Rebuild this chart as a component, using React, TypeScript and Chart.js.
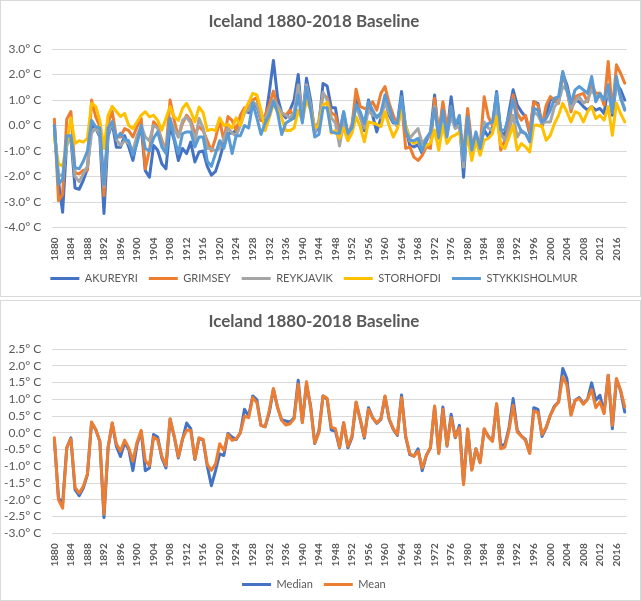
import React, { useEffect, useRef } from "react";
import { Chart, registerables } from "chart.js";

Chart.register(...registerables);

const years: string[] = [
  "1880","1881","1882","1883","1884","1885","1886","1887","1888","1889",
  "1890","1891","1892","1893","1894","1895","1896","1897","1898","1899",
  "1900","1901","1902","1903","1904","1905","1906","1907","1908","1909",
  "1910","1911","1912","1913","1914","1915","1916","1917","1918","1919",
  "1920","1921","1922","1923","1924","1925","1926","1927","1928","1929",
  "1930","1931","1932","1933","1934","1935","1936","1937","1938","1939",
  "1940","1941","1942","1943","1944","1945","1946","1947","1948","1949",
  "1950","1951","1952","1953","1954","1955","1956","1957","1958","1959",
  "1960","1961","1962","1963","1964","1965","1966","1967","1968","1969",
  "1970","1971","1972","1973","1974","1975","1976","1977","1978","1979",
  "1980","1981","1982","1983","1984","1985","1986","1987","1988","1989",
  "1990","1991","1992","1993","1994","1995","1996","1997","1998","1999",
  "2000","2001","2002","2003","2004","2005","2006","2007","2008","2009",
  "2010","2011","2012","2013","2014","2015","2016","2017","2018",
];

const akureyri: number[] = [
  0.0, -2.2, -3.4, -0.6, -0.5, -2.45, -2.5, -2.15, -1.7, 0.0,
  -0.1, -0.45, -3.45, -0.4, 0.1, -0.85, -0.85, -0.4, -0.84, -1.37,
  -0.6, -0.05, -1.77, -2.03, -0.78, -0.97, -1.5, -1.7, 0.0, -0.58,
  -1.37, -0.9, -1.1, -0.65, -1.43, -1.04, -1.0, -1.6, -1.95, -1.8,
  -1.3, -0.7, -0.3, -0.3, -0.2, 0.1, 0.6, 0.5, 0.8, 0.74,
  0.2, 0.2, 1.3, 2.55, 1.1, 0.5, 0.3, 0.6, 1.0, 2.0,
  0.2, 1.85, 1.0, -0.3, 0.0, 1.65, 1.55, 0.7, 0.7, -0.3,
  0.5, -0.4, 0.0, 1.0, 0.4, -0.2, 1.0, 0.4, -0.25, 0.3,
  1.0, 0.4, 0.1, 0.1, 1.33, -0.1, -0.78, -0.84, -0.75, -1.1,
  -0.6, -0.3, 1.2, -0.5, 0.8, -0.32, 1.13, -0.1, 0.2, -2.03,
  0.3, -0.84, -0.38, -0.8, -0.18, -0.45, -0.05, 1.33, -0.25, -0.38,
  0.54, 1.4, 0.8, 0.54, 0.34, -0.32, 0.93, 0.87, 0.0, 0.34,
  1.07, 0.93, 1.0, 2.05, 1.6, 0.87, 1.0, 0.93, 0.74, 0.6,
  0.74, 0.6, 0.67, 0.47, 1.53, 0.4, 1.66, 1.4, 1.0,
];

const grimsey: number[] = [
  0.25, -2.95, -2.7, 0.25, 0.55, -1.85, -1.9, -1.75, -1.75, 1.0,
  0.35, -0.05, -2.75, 0.1, 0.55, -0.45, -0.45, -0.12, -0.2, -0.45,
  -0.05, 0.28, -1.7, -0.97, 0.15, -0.05, -0.58, -0.97, 1.0, 0.2,
  -0.45, 0.08, 0.4, 0.2, -0.3, -0.05, -0.2, -0.6, -1.0, -0.5,
  0.2, -0.6, 0.35, 0.2, -0.2, 0.4, 0.7, 0.7, 1.0, 1.1,
  0.2, 0.4, 0.8, 1.35, 0.7, 0.5, 0.4, 0.6, 0.3, 1.5,
  0.4, 1.4, 0.7, -0.1, 0.1, 1.2, 1.1, 0.5, 0.4, -0.3,
  0.3, -0.3, 0.0, 1.42, 0.74, 0.67, 0.7, 0.93, 0.6, 1.26,
  1.53, 0.87, 0.4, -0.05, 0.93, -0.9, -0.84, -1.24, -1.37, -1.17,
  -0.84, -0.9, 1.07, -0.32, 0.93, -0.12, 0.74, 0.0, 0.0, -1.04,
  0.67, -0.71, -0.45, -0.84, 1.13, 0.34, 0.01, 0.87, -0.97, -0.58,
  0.01, 1.2, 0.47, 0.21, 0.4, -0.25, 0.93, 0.8, 0.0, 0.8,
  1.13, 1.0, 0.87, 2.05, 1.4, 0.54, 1.13, 1.2, 1.26, 0.93,
  1.6, 1.26, 1.26, 0.8, 2.51, 0.54, 2.38, 2.05, 1.66,
];

const reykjavik: number[] = [
  -0.3, -1.9, -2.0, -0.8, -0.4, -2.0, -2.2, -1.9, -1.6, -0.3,
  -0.1, -0.35, -2.4, -0.3, 0.15, -0.55, -0.78, -0.6, -0.7, -1.0,
  -0.4, 0.0, -0.45, -0.6, 0.0, -0.1, -0.7, -1.0, 0.2, -0.12,
  -0.45, 0.2, 0.34, 0.1, -0.7, 0.28, -0.1, -0.9, -0.9, -1.0,
  -0.9, -0.5, -0.1, -0.3, -0.4, 0.0, 0.5, 0.6, 0.93, 0.8,
  0.3, 0.3, 0.6, 1.0, 0.8, 0.5, 0.4, 0.3, 0.5, 1.6,
  0.3, 1.6, 0.8, -0.3, 0.2, 1.3, 1.0, 0.3, 0.1, -0.8,
  0.2, -0.4, -0.1, 0.8, 0.3, -0.1, 0.6, 0.4, 0.4, 0.3,
  1.0, 0.47, 0.2, -0.05, 0.87, 0.0, -0.5, -0.3, -0.12, -0.7,
  -0.5, -0.4, 0.74, -0.45, 0.47, -0.32, 0.34, -0.12, 0.0, -1.63,
  0.08, -0.84, -0.45, -0.84, 0.14, -0.1, -0.2, 0.74, -0.32, -0.58,
  -0.18, 0.4, -0.45, -0.18, -0.32, -0.51, 0.54, 0.4, 0.08, 0.14,
  0.14, 0.74, 0.93, 1.53, 1.4, 0.67, 0.93, 1.13, 0.87, 1.0,
  1.4, 1.13, 1.13, 1.0, 1.26, 0.54, 1.66, 1.13, 0.67,
];

const storhofdi: number[] = [
  -0.5, -1.5, -1.6, -0.7, 0.3, -0.7, -0.6, -0.65, -0.5, 0.87,
  0.75, 0.2, -0.9, 0.4, 0.75, 0.55, 0.35, 0.47, 0.0, -0.12,
  0.14, 0.4, 0.54, 0.34, 0.4, 0.2, -0.18, 0.28, 0.74, 0.34,
  0.2, 0.67, 0.87, 0.54, 0.14, 0.72, 0.5, -0.2, -0.15, -0.2,
  0.3, 0.0, 0.05, -0.1, 0.3, 0.0, 0.6, 0.9, 1.26, 1.2,
  0.6, -0.2, 0.3, 0.85, 0.6, 0.3, -0.2, -0.2, -0.1, 0.6,
  0.2, 1.0, 0.6, -0.1, 0.0, 0.8, 0.9, -0.3, -0.2, -0.5,
  -0.1, -0.6, -0.3, 0.34, -0.05, -0.64, 0.14, 0.1, 0.05, -0.05,
  0.54, 0.0, -0.45, -0.12, 0.6, 0.0, -0.6, -0.7, -0.6, -0.97,
  -0.78, -0.7, -0.18, -0.97, 0.0, -0.7, -0.45, -0.38, -0.25, -1.1,
  -0.45, -1.37, -0.58, -1.17, -0.58, -0.5, -0.32, 0.34, -0.78, -0.9,
  -0.45, 0.0, -0.97, -0.71, -0.84, -1.04, 0.01, 0.01, -0.05, -0.58,
  -0.38, 0.08, 0.4, 0.87, 0.54, 0.14, 0.54, 0.47, 0.14, 0.54,
  0.74, 0.27, 0.4, 0.21, 0.74, -0.38, 0.87, 0.47, 0.14,
];

const stykkisholmur: number[] = [
  0.0, -2.3, -2.1, -0.4, -0.4, -1.65, -1.7, -1.4, -1.0, 0.2,
  -0.05, -0.1, -2.3, -0.1, 0.15, -0.5, -0.3, -0.55, -0.6, -1.17,
  -0.7, 0.0, -0.9, -1.0, -0.5, -0.25, -0.84, -1.1, 0.28, -0.5,
  -1.1, -0.32, -0.25, -0.25, -0.84, -0.45, -0.45, -1.4, -1.6, -1.1,
  -0.6, -0.9, -0.3, -1.1, -0.4, -0.4, 0.0, -0.1, 0.87, 0.3,
  -0.35, 0.1, 0.4, 0.95, 0.5, -0.35, 0.1, 0.2, 0.3, 1.2,
  0.1, 1.5, 0.6, -0.45, -0.35, 0.7, 0.7, -0.25, -0.3, -0.3,
  0.55, -0.3, -0.1, 0.8, 0.54, 0.08, 0.93, 0.6, 0.3, 0.5,
  1.2, 0.74, 0.14, 0.08, 1.13, -0.2, -0.58, -0.6, -0.5, -1.0,
  -0.5, -0.25, 0.67, -0.45, 0.6, -0.45, 0.74, 0.0, 0.4, -1.37,
  0.34, -0.97, -0.25, -0.9, -0.12, 0.08, 0.14, 1.26, -0.18, -0.18,
  0.4, 1.0, 0.14, -0.25, -0.32, -0.64, 0.67, 0.6, 0.14, 0.28,
  0.6, 1.07, 1.13, 2.12, 1.4, 0.87, 1.4, 1.53, 1.4, 1.26,
  1.92, 0.93, 1.26, 1.0, 1.6, 0.5, 1.92, 1.07, 0.6,
];

const median: number[] = [
  -0.2, -1.95, -2.1, -0.45, -0.15, -1.7, -1.88, -1.65, -1.25, 0.3,
  0.1, -0.25, -2.53, -0.45, 0.28, -0.4, -0.71, -0.3, -0.5, -1.13,
  -0.35, 0.05, -1.13, -1.05, -0.05, -0.13, -0.75, -1.05, 0.4, -0.12,
  -0.75, -0.2, 0.29, 0.12, -0.8, -0.17, -0.22, -1.0, -1.58, -1.13,
  -0.63, -0.68, -0.02, -0.13, -0.2, 0.0, 0.7, 0.5, 1.1, 0.98,
  0.22, 0.18, 0.6, 1.3, 0.75, 0.38, 0.35, 0.32, 0.45, 1.57,
  0.32, 1.45, 0.8, -0.32, 0.05, 1.1, 1.0, 0.08, 0.05, -0.45,
  0.3, -0.45, -0.15, 0.9, 0.4, -0.16, 0.75, 0.45, 0.28, 0.4,
  1.08, 0.4, 0.1, -0.08, 1.13, -0.12, -0.65, -0.7, -0.48, -1.13,
  -0.68, -0.45, 0.78, -0.6, 0.77, -0.4, 0.55, -0.15, 0.22, -1.5,
  0.1, -1.1, -0.48, -0.88, 0.1, -0.1, -0.25, 0.85, -0.38, -0.35,
  0.15, 1.02, 0.07, -0.1, -0.2, -0.6, 0.75, 0.7, -0.11, 0.15,
  0.52, 0.8, 0.92, 1.92, 1.62, 0.55, 0.97, 1.05, 0.88, 1.0,
  1.49, 0.97, 1.12, 0.6, 1.72, 0.12, 1.6, 1.25, 0.62,
];

const mean: number[] = [
  -0.15, -2.0, -2.25, -0.45, -0.18, -1.63, -1.8, -1.6, -1.23, 0.32,
  0.1, -0.25, -2.43, -0.43, 0.3, -0.33, -0.55, -0.22, -0.45, -0.85,
  -0.28, 0.07, -0.83, -0.98, -0.13, -0.21, -0.7, -0.98, 0.42, -0.1,
  -0.72, -0.18, 0.08, 0.07, -0.78, -0.15, -0.2, -0.95, -1.12, -0.93,
  -0.33, -0.53, -0.05, -0.23, -0.18, 0.0, 0.5, 0.45, 1.05, 0.9,
  0.22, 0.18, 0.67, 1.32, 0.77, 0.37, 0.23, 0.27, 0.42, 1.45,
  0.3, 1.52, 0.75, -0.3, 0.0, 1.1, 1.03, 0.17, 0.12, -0.43,
  0.3, -0.4, -0.1, 0.92, 0.4, -0.12, 0.7, 0.45, 0.3, 0.42,
  1.1, 0.42, 0.12, -0.05, 1.05, -0.1, -0.62, -0.7, -0.55, -1.05,
  -0.68, -0.43, 0.8, -0.62, 0.7, -0.38, 0.45, -0.13, 0.15, -1.55,
  0.12, -1.12, -0.48, -0.9, 0.12, -0.13, -0.25, 0.87, -0.48, -0.43,
  0.07, 0.82, 0.02, -0.1, -0.23, -0.62, 0.65, 0.6, -0.05, 0.17,
  0.52, 0.77, 0.92, 1.67, 1.42, 0.52, 0.97, 1.02, 0.85, 1.0,
  1.29, 0.75, 0.92, 0.57, 1.72, 0.22, 1.62, 1.27, 0.77,
];

const yTicksTop: number[] = [3, 2, 1, 0, -1, -2, -3, -4];
const yTicksBottom: number[] = [2.5, 2, 1.5, 1, 0.5, 0, -0.5, -1, -1.5, -2, -2.5, -3];

const TITLE = "Iceland 1880-2018 Baseline";
const FONT = "Lato, 'Open Sans', sans-serif";
const TEXT = "#595959";
const GRID = "#D9D9D9";

type Series = { label: string; data: number[]; color: string };

function makeConfig(series: Series[], yTicks: number[], xAxisHeight: number, bottomPad: number): any {
  const n = series.length;
  return {
    type: "line",
    data: {
      labels: years,
      datasets: series.map((s, i) => ({
        label: s.label,
        data: s.data,
        borderColor: s.color,
        backgroundColor: s.color,
        borderWidth: 3,
        pointRadius: 0,
        pointHoverRadius: 0,
        tension: 0,
        borderJoinStyle: "round",
        borderCapStyle: "round",
        fill: false,
        order: n - i,
      })),
    },
    options: {
      responsive: false,
      maintainAspectRatio: false,
      animation: false,
      events: [],
      layout: { padding: { left: 0, right: 13.2, top: 0, bottom: bottomPad } },
      plugins: {
        title: {
          display: true,
          text: TITLE,
          color: TEXT,
          font: { family: FONT, size: 17, weight: "bold", lineHeight: 1.2 },
          padding: { top: 10.8, bottom: 16.8 },
        },
        legend: {
          position: "bottom",
          labels: {
            usePointStyle: true,
            pointStyle: "line",
            pointStyleWidth: 29,
            padding: 11,
            color: TEXT,
            font: { family: FONT, size: 11 },
            sort: (a: any, b: any) => a.datasetIndex - b.datasetIndex,
          },
        },
        tooltip: { enabled: false },
      },
      scales: {
        x: {
          type: "category",
          offset: true,
          grid: { display: false },
          border: { display: false },
          afterFit: (scale: any) => {
            scale.height = xAxisHeight;
            scale._computeLabelArea = () => undefined;
          },
          ticks: {
            autoSkip: false,
            minRotation: 90,
            maxRotation: 90,
            padding: 2,
            color: TEXT,
            font: { family: FONT, size: 10, weight: "bold" },
            callback: function (this: any, value: any, index: number) {
              return index % 4 === 0 ? years[index] : null;
            },
          },
        },
        y: {
          min: yTicks[yTicks.length - 1],
          max: yTicks[0],
          grid: { color: GRID, lineWidth: 1, drawTicks: false },
          border: { display: false },
          afterFit: (scale: any) => {
            scale.width = 51.3;
          },
          afterBuildTicks: (scale: any) => {
            scale.ticks = yTicks.slice().reverse().map((v) => ({ value: v }));
          },
          ticks: {
            autoSkip: false,
            padding: 11,
            color: TEXT,
            font: { family: FONT, size: 12 },
            callback: (v: any) => Number(v).toFixed(1) + "° C",
          },
        },
      },
    },
  };
}

function ChartBox(props: { top: number; height: number; series: Series[]; yTicks: number[]; xAxisHeight: number; bottomPad: number }) {
  const ref = useRef<HTMLCanvasElement | null>(null);
  useEffect(() => {
    if (!ref.current) return;
    const chart = new Chart(ref.current, makeConfig(props.series, props.yTicks, props.xAxisHeight, props.bottomPad));
    return () => chart.destroy();
  }, []);
  return (
    <div
      style={{
        position: "absolute",
        left: 0,
        top: props.top,
        width: 641,
        height: props.height,
        border: "1px solid #D9D9D9",
        boxSizing: "border-box",
        background: "#fff",
      }}
    >
      <canvas ref={ref} width={639} height={props.height - 2} style={{ display: "block", width: 639, height: props.height - 2 }} />
    </div>
  );
}

export default function App() {
  useEffect(() => {
    document.body.style.margin = "0";
  }, []);
  const topSeries: Series[] = [
    { label: "AKUREYRI", data: akureyri, color: "#4472C4" },
    { label: "GRIMSEY", data: grimsey, color: "#ED7D31" },
    { label: "REYKJAVIK", data: reykjavik, color: "#A5A5A5" },
    { label: "STORHOFDI", data: storhofdi, color: "#FFC000" },
    { label: "STYKKISHOLMUR", data: stykkisholmur, color: "#5B9BD5" },
  ];
  const bottomSeries: Series[] = [
    { label: "Median", data: median, color: "#4472C4" },
    { label: "Mean", data: mean, color: "#ED7D31" },
  ];
  return (
    <div style={{ position: "relative", width: 641, height: 601, background: "#fff", overflow: "hidden" }}>
      <ChartBox top={0} height={297} series={topSeries} yTicks={yTicksTop} xAxisHeight={34.5} bottomPad={2} />
      <ChartBox top={300} height={301} series={bottomSeries} yTicks={yTicksBottom} xAxisHeight={34.7} bottomPad={0} />
    </div>
  );
}
